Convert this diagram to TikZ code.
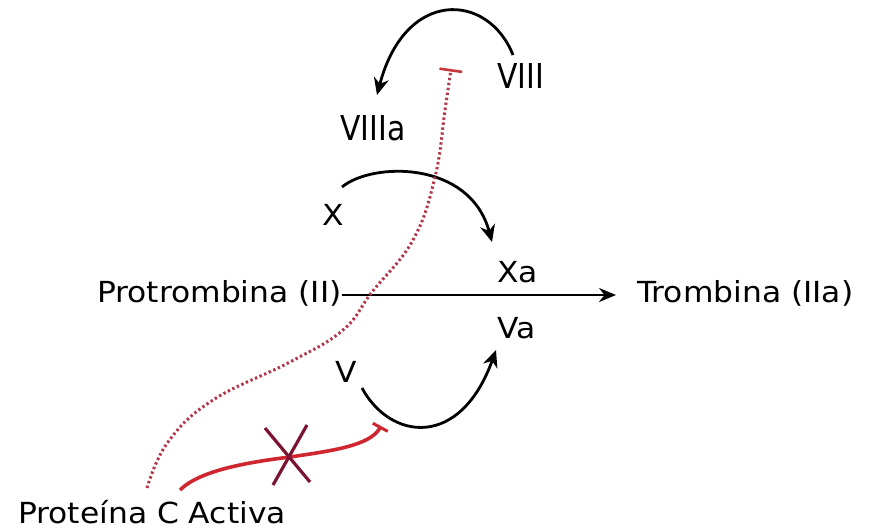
\documentclass[tikz,border=0pt]{standalone}
\usepackage{fontspec}
\setmainfont{DejaVu Sans}
\newfontfamily\lblfont{DejaVu Sans}[FakeStretch=1.08]
\newfontfamily\viiifont{DejaVu Sans}[FakeStretch=0.87]
\usetikzlibrary{arrows.meta}
\definecolor{dotred}{HTML}{B3364A}
\definecolor{solidred}{HTML}{D0262F}
\definecolor{barred}{HTML}{C8353A}
\definecolor{crossred}{HTML}{7A1430}
\begin{document}
\begin{tikzpicture}[x=1pt,y=-1pt,
  lbl/.style={anchor=base west,inner sep=0pt,font=\lblfont\fontsize{29}{34}\selectfont},
  lblv/.style={anchor=base west,inner sep=0pt,font=\viiifont\fontsize{34.3}{40}\selectfont},
  act/.style={line width=2.8pt,-{Stealth[length=17pt,width=15pt]}},
  inhdot/.style={dotred,line width=3pt,dash pattern=on 2.4pt off 2.6pt,
     -{Bar[width=23pt,line width=2.6pt,color=barred]}},
  inhsolid/.style={solidred,line width=3.6pt,-{Bar[width=17pt,line width=3pt]}},
  crossmark/.style={crossred,line width=3.2pt}]
\useasboundingbox (0,0) rectangle (874,530);

\node[lblv] (viii) at (497,88) {VIII};
\node[lblv] (viiia) at (340,140) {VIIIa};
\node[lbl] (x) at (322,225) {X};
\node[lbl] (xa) at (497,282) {Xa};
\node[lbl] (protro) at (97,302) {Protrombina (II)};
\node[lbl] (trombina) at (637,302) {Trombina (IIa)};
\node[lbl] (va) at (497,338) {Va};
\node[lbl] (v) at (335,382) {V};
\node[lbl] (protc) at (18,523) {Proteína C Activa};

% named connector end points
\coordinate (viiiS) at (513,55);
\coordinate (viiiaT) at (377,95);
\coordinate (xS) at (342,187);
\coordinate (xaT) at (492,242);
\coordinate (vS) at (362,388);
\coordinate (vaT) at (496,350);
\coordinate (inhTop) at (451,69);
\coordinate (inhV) at (381,426);
\coordinate (pcA) at (147,488);
\coordinate (pcB) at (180,490);
\coordinate (xc) at (290,457);

% activation arcs
\draw[act] (viiiS) .. controls (488,-8) and (405,-12) .. (viiiaT);
\draw[act] (xS) .. controls (372,162) and (470,160) .. (xaT);
\draw[act] (vS) .. controls (390,440) and (460,450) .. (vaT);

% main conversion
\draw[line width=2.4pt,-{Stealth[length=17pt,width=14pt]},shorten >=21pt] (protro.east |- 0,295) -- (trombina.west |- 0,295);

% dotted inhibition (Protein C -> VIII)
\draw[inhdot] plot[smooth,tension=0.7] coordinates {(pcA) (168,442) (213,400) (290,362) (343,330) (372,292) (413,240) (435,177) (445,110) (inhTop)};

% solid inhibition (Protein C -> V), blocked
\draw[inhsolid] (pcB) .. controls (200,470) and (250,462) .. (xc) .. controls (330,451) and (370,446) .. (inhV);
\draw[crossmark] (265,428) -- (310,482);
\draw[crossmark] (307,425) -- (273,485);
\end{tikzpicture}
\end{document}
